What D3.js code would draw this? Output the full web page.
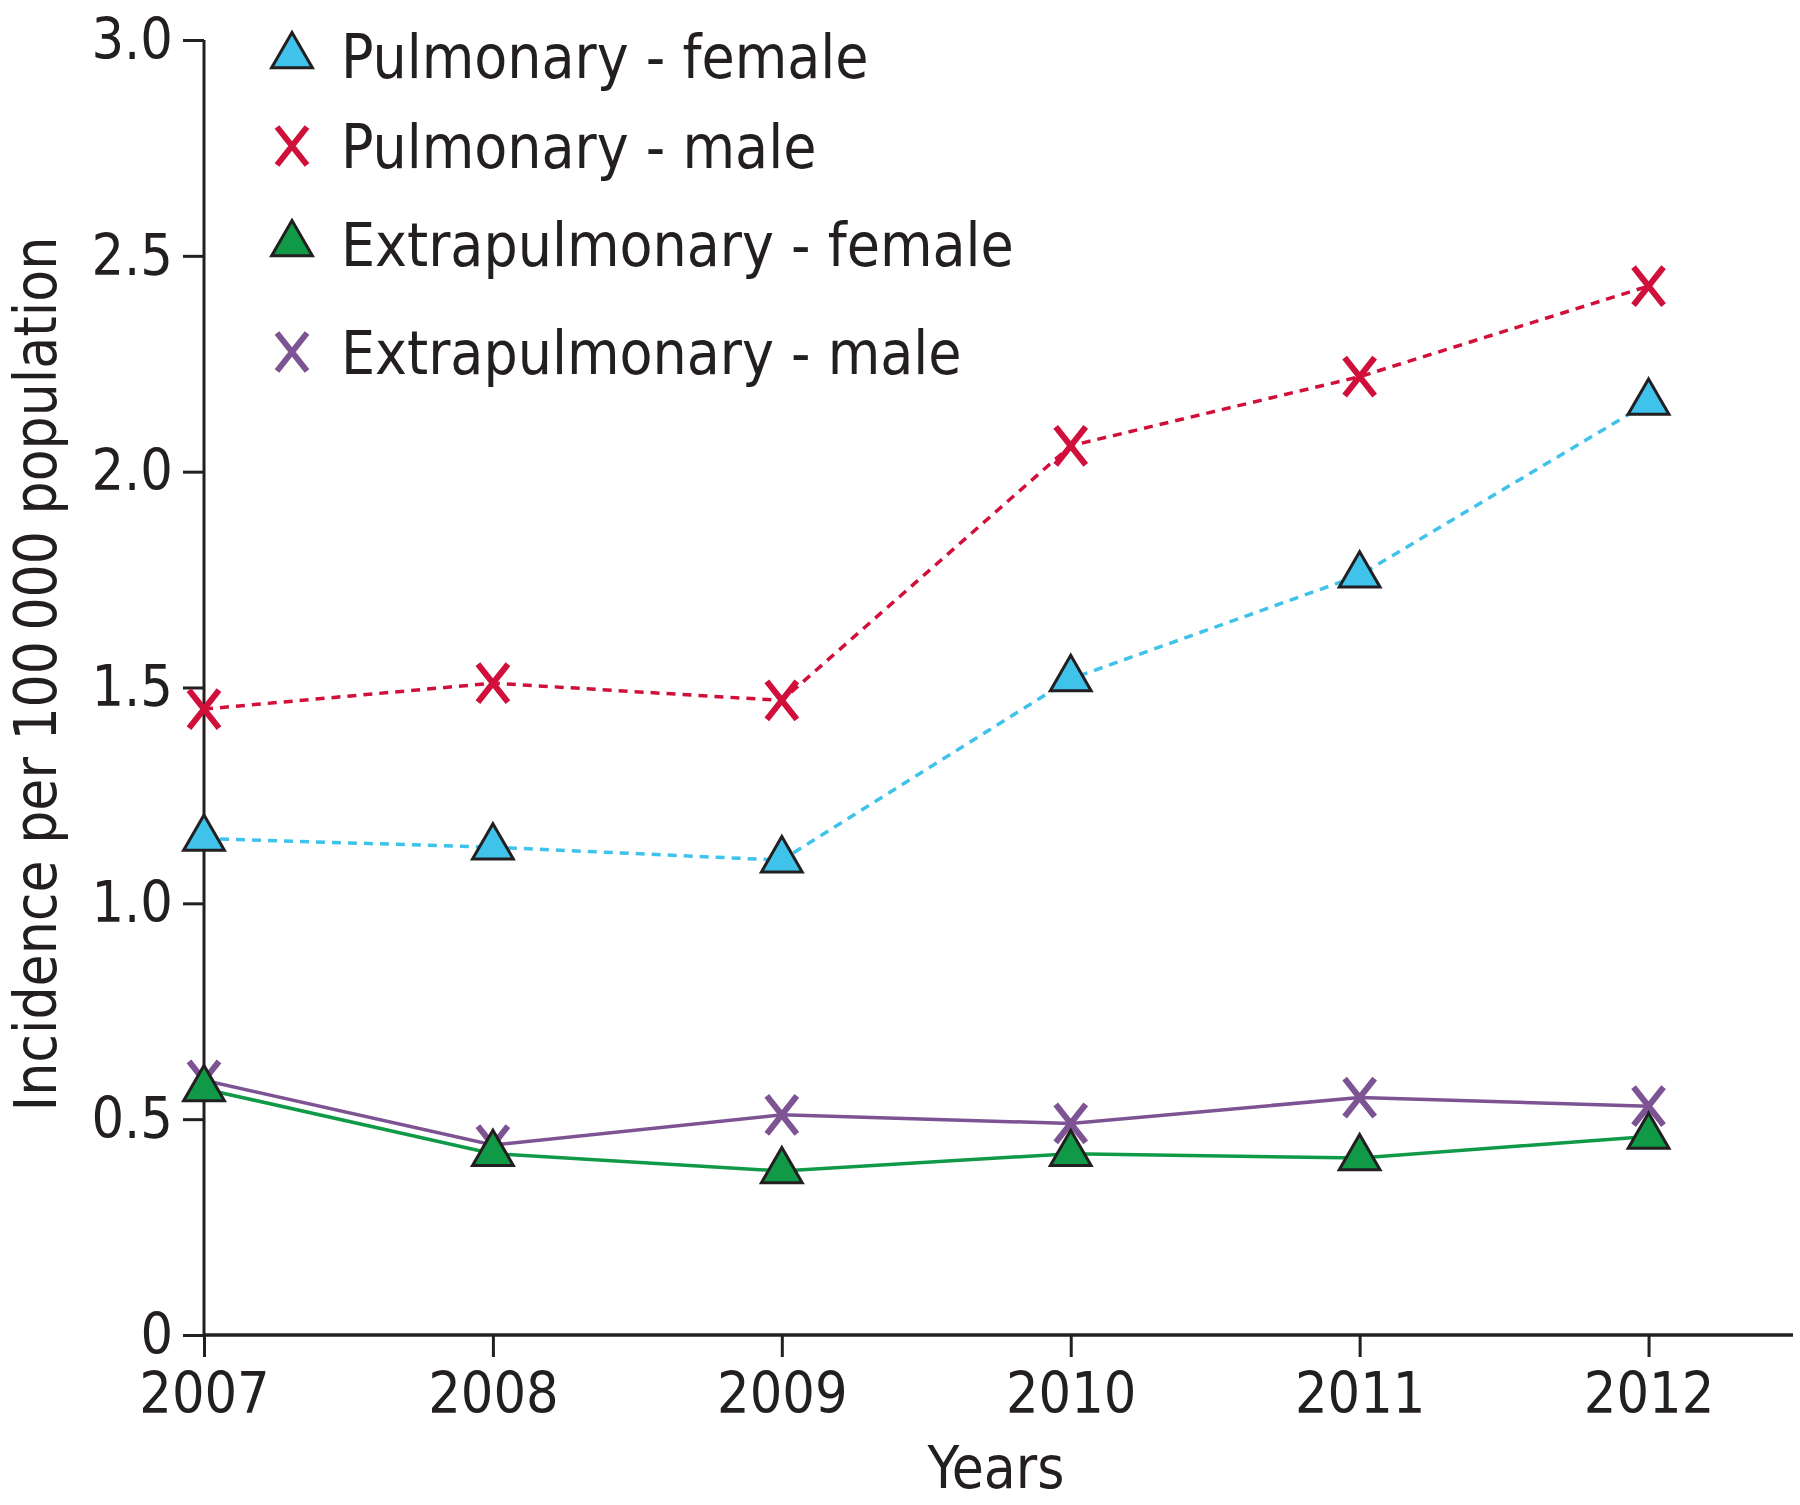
<!DOCTYPE html>
<html>
<head>
<meta charset="utf-8">
<script src="https://cdn.jsdelivr.net/npm/d3@7"></script>
<style>
  body { margin: 0; background: #fff; }
  svg text { font-family: "DejaVu Sans Condensed", "Liberation Sans Narrow", "DejaVu Sans", sans-serif; fill: #231f20; }
</style>
</head>
<body>
<svg id="chart" width="1800" height="1505"></svg>
<script>
// data
var years = [2007, 2008, 2009, 2010, 2011, 2012];
var pulmonaryFemale = [1.15, 1.13, 1.10, 1.52, 1.76, 2.16];
var pulmonaryMale = [1.45, 1.51, 1.47, 2.06, 2.22, 2.43];
var extraFemale = [0.57, 0.42, 0.38, 0.42, 0.41, 0.46];
var extraMale = [0.59, 0.44, 0.51, 0.49, 0.55, 0.53];
var yTicks = [0, 0.5, 1.0, 1.5, 2.0, 2.5, 3.0];

var series = [
    {name: "Pulmonary - female", values: pulmonaryFemale, color: "#3fc3ea", marker: "tri", dashed: true},
    {name: "Pulmonary - male", values: pulmonaryMale, color: "#d0103a", marker: "x", dashed: true},
    {name: "Extrapulmonary - female", values: extraFemale, color: "#109a48", marker: "tri", dashed: false},
    {name: "Extrapulmonary - male", values: extraMale, color: "#7d5393", marker: "x", dashed: false}
];

var svg = d3.select("#chart");
var x0 = 204, x1 = 1793, yTop = 40, yBot = 1335;

var x = d3.scaleLinear().domain([2007, 2012.5]).range([x0, x1]);
var y = d3.scaleLinear().domain([0, 3]).range([yBot, yTop]);

/* axes */
var yAxis = svg.append("g")
    .attr("transform", "translate(" + x0 + ",0)")
    .call(d3.axisLeft(y).tickValues(yTicks).tickSize(21).tickPadding(10)
        .tickFormat(function (d) { return d === 0 ? "0" : d3.format(".1f")(d); }));

var xAxis = svg.append("g")
    .attr("transform", "translate(0," + yBot + ")")
    .call(d3.axisBottom(x).tickValues(years).tickSize(22).tickPadding(16)
        .tickFormat(d3.format("d")));

[yAxis, xAxis].forEach(function (g) {
    g.select(".domain").remove();
    g.selectAll(".tick line").attr("stroke", "#231f20").attr("stroke-width", 3);
    g.selectAll(".tick text").attr("font-size", 57).attr("fill", "#231f20");
});
xAxis.selectAll(".tick text").attr("dy", "0.71em");

// axis lines
svg.append("line").attr("x1", x0).attr("x2", x0).attr("y1", yTop).attr("y2", yBot)
    .attr("stroke", "#231f20").attr("stroke-width", 3);
svg.append("line").attr("x1", x0).attr("x2", x1).attr("y1", yBot).attr("y2", yBot)
    .attr("stroke", "#231f20").attr("stroke-width", 3.5);

// axis titles
svg.append("text")
    .attr("x", 996).attr("y", 1488)
    .attr("text-anchor", "middle").attr("font-size", 58)
    .text("Years");
svg.append("text")
    .attr("transform", "translate(56,674) rotate(-90)")
    .attr("text-anchor", "middle").attr("font-size", 58)
    .text("Incidence per 100\u2009000 population");

/* markers */
var triPath = d3.symbol().type(d3.symbolTriangle).size(720);

function drawMarker(g, s, cx, cy) {
    if (s.marker === "tri") {
        g.append("path")
            .attr("d", triPath())
            .attr("transform", "translate(" + cx + "," + cy + ")")
            .attr("fill", s.color)
            .attr("stroke", "#231f20")
            .attr("stroke-width", 3)
            .attr("stroke-linejoin", "miter");
    } else {
        var hw = 15, hh = 19;
        g.append("path")
            .attr("d", "M" + (cx - hw) + "," + (cy - hh) + "L" + (cx + hw) + "," + (cy + hh) +
                "M" + (cx - hw) + "," + (cy + hh) + "L" + (cx + hw) + "," + (cy - hh))
            .attr("stroke", s.color)
            .attr("stroke-width", 6)
            .attr("fill", "none");
    }
}

var line = d3.line()
    .x(function (d, i) { return x(years[i]); })
    .y(function (d) { return y(d); });

// draw order: male (x) under female (triangles)
var order = [series[1], series[0], series[3], series[2]];
order.forEach(function (s) {
    var g = svg.append("g");
    g.append("path")
        .attr("d", line(s.values))
        .attr("fill", "none")
        .attr("stroke", s.color)
        .attr("stroke-width", 3.5)
        .attr("stroke-dasharray", s.dashed ? "9,7" : null);
    s.values.forEach(function (v, i) {
        drawMarker(g, s, x(years[i]), y(v));
    });
});

/* legend */
var legendRows = [56, 146, 244, 352];
var legend = svg.append("g");
series.forEach(function (s, i) {
    var ly = legendRows[i];
    drawMarker(legend, s, 292, ly);
    legend.append("text")
        .attr("x", 341).attr("y", ly)
        .attr("dy", "0.36em")
        .attr("font-size", 60)
        .text(s.name);
});
</script>
</body>
</html>
